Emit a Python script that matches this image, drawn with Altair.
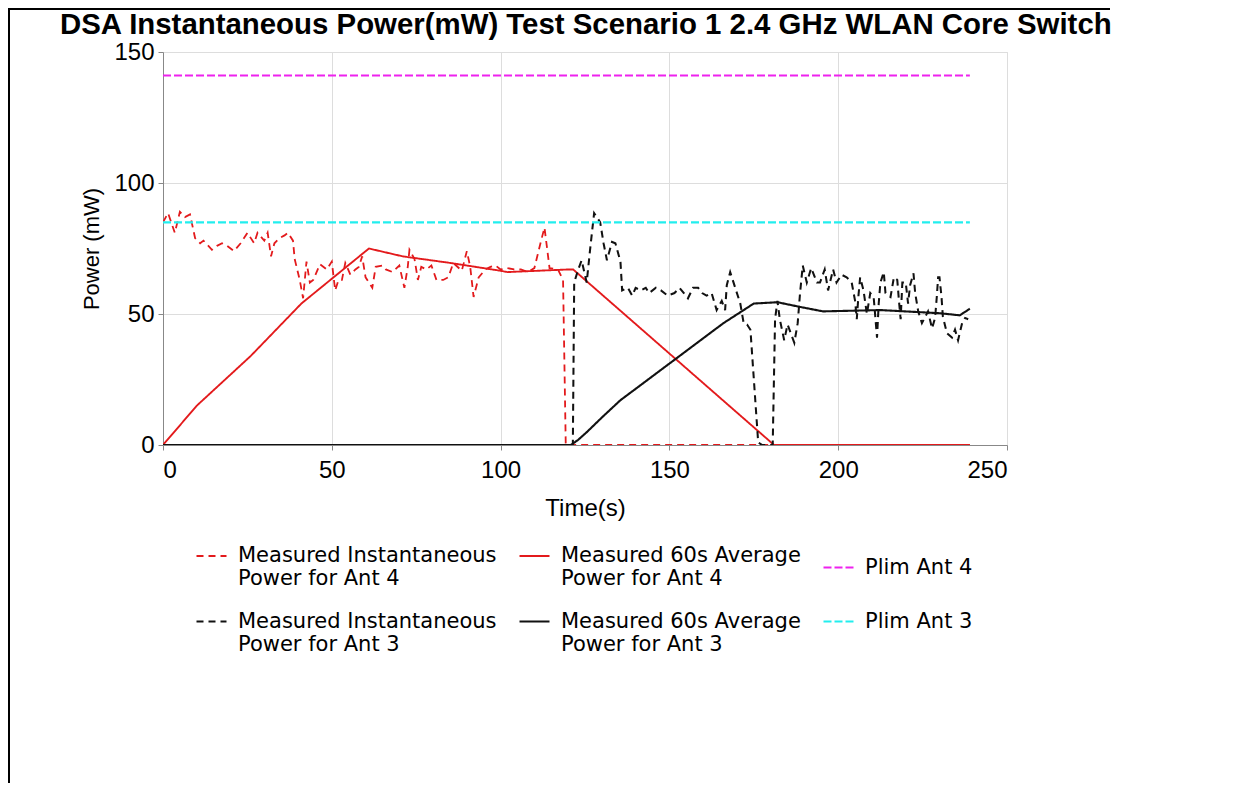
import altair as alt
import pandas as pd

# ---------------- data ----------------
title_text = "DSA Instantaneous Power(mW) Test Scenario 1 2.4 GHz WLAN Core Switch"
x_ticks = [0, 50, 100, 150, 200, 250]
y_ticks = [0, 50, 100, 150]

names = [
    "Measured Instantaneous|Power for Ant 4",
    "Measured 60s Average|Power for Ant 4",
    "Plim Ant 4",
    "Measured Instantaneous|Power for Ant 3",
    "Measured 60s Average|Power for Ant 3",
    "Plim Ant 3",
]
colors = ["#e31a1c", "#e31a1c", "#ee22ee", "#111111", "#111111", "#22eeee"]
dashes = [[7, 5], [1, 0], [8, 3], [7, 5], [1, 0], [8, 3]]
widths = [1.8, 2.2, 3.0, 1.8, 2.2, 3.0]

# Instantaneous power, antenna 4
t_inst4 = [0, 1.5, 3.5, 5, 6.5, 8, 9.5, 11, 12, 14.5, 16, 17.5, 19, 21, 23, 25, 27, 28,
           30, 31, 32, 33, 34.5, 36, 37, 38.5, 39, 40.5, 41.5, 42.5, 43.5, 44.5, 46.5,
           48.5, 50, 51, 52, 53, 54, 55.5, 57, 58, 59, 60, 62, 63, 65, 66, 68, 70, 71.5,
           72.5, 73, 74.5, 75.5, 76.5, 78, 79.5, 81, 83, 84.5, 86, 88.5, 90, 91, 92, 93.5,
           95.5, 97, 98.5, 100, 102, 104, 106, 108, 110, 112, 113, 114.5, 117, 118.5,
           119.3, 120, 239]
p_inst4 = [85, 88.5, 81, 89, 87, 88, 79, 77, 78, 74.5, 76, 77, 76, 74, 77, 81, 77, 81,
           78, 81, 72, 77, 79, 80, 81, 78, 71, 63, 56, 70, 62, 63, 69, 67, 70, 59, 63, 63,
           69.5, 65, 67, 68, 72, 64, 60, 68, 68.5, 67, 66, 68.5, 60, 68, 74.5, 71, 63, 68,
           67, 68.5, 63, 63, 64, 69.5, 66.5, 74, 68, 56.5, 64, 67, 68, 68.5, 67, 67.5, 67,
           67, 66, 67.5, 78, 83, 67.5, 67, 63, 0, 0, 0]

# 60 s average, antenna 4
t_avg4 = [0, 10, 26, 41, 61, 71, 85, 100, 102, 120, 121.5, 181, 239]
p_avg4 = [0, 15, 34, 54, 75, 72, 69.5, 66.5, 66, 67, 67, 0, 0]

# Instantaneous power, antenna 3
t_inst3 = [0, 121.4, 121.8, 123, 124, 125.5, 126.5, 127.7, 129.5, 130.5, 131.5, 133, 134,
           135.5, 136, 137.7, 139, 140, 141.5, 143, 144, 146, 147.5, 149.5, 151.5, 153,
           155.5, 157, 158.5, 159.7, 161, 162.5, 164, 165.5, 166.5, 167, 168, 169.5, 171,
           172, 173, 174, 176.3, 177.5, 180.6, 181.3, 182, 182.7, 184, 185, 187, 188,
           188.7, 189.5, 190.7, 192, 193.7, 194.6, 196, 197, 198.5, 199.5, 201, 202.5,
           204, 205, 205.5, 206, 206.5, 207.5, 208.5, 209.5, 210.5, 211.5, 212, 212.5,
           213.5, 214, 215.5, 216.5, 217.5, 218, 218.5, 219, 220, 220.7, 221.3, 222.3,
           222.8, 223.7, 224.8, 226.6, 227.8, 228.7, 229.2, 229.6, 230, 230.6, 231,
           232.2, 233.7, 234.6, 235.5, 236.7, 237.6, 238.5]
p_inst3 = [0, 0, 62, 67, 70.5, 62, 74.5, 88.5, 85, 77, 70.5, 77.5, 77, 70, 59, 60, 57, 60,
           59, 60, 58, 60, 59, 57, 58, 60, 56, 60, 60, 58, 57, 58, 51.5, 55, 51.5, 61, 66,
           60, 54, 46.5, 46, 44, 1, 0, 0, 48, 55, 48, 40, 46, 39, 46.5, 58, 68.5, 62,
           67.5, 62, 62, 67, 59, 67, 62, 65, 64, 62, 55, 48, 57, 64, 59, 50, 58, 56.5, 41,
           54, 62, 66, 58, 56.5, 64, 63, 55, 48, 62, 62, 54, 61, 65.5, 58, 51, 46.5, 51,
           44.5, 48.5, 56.5, 64, 64, 56.5, 49, 42.7, 41, 44, 40, 46.5, 48.5, 48]

# 60 s average, antenna 3
t_avg3 = [0, 120.8, 123, 125.6, 130, 135.4, 152, 166, 175, 178, 182, 188.7, 195.5, 212.5,
          230, 236, 239]
p_avg3 = [0, 0, 2, 5, 10.5, 17, 33, 46.5, 54, 54.2, 54.5, 52.7, 51, 51.5, 50.3, 49.5, 52]

# Power limits
t_plim = [0, 239]
p_plim4 = [141, 141]
p_plim3 = [85, 85]

# ---------------- build the table ----------------
rows = []


def add(name, ts, ps):
    for i, (a, b) in enumerate(zip(ts, ps)):
        rows.append({"series": name, "t": a, "p": b, "i": i})


add(names[0], t_inst4, p_inst4)
add(names[1], t_avg4, p_avg4)
add(names[3], t_inst3, p_inst3)
add(names[4], t_avg3, p_avg3)
add(names[2], t_plim, p_plim4)
add(names[5], t_plim, p_plim3)
df = pd.DataFrame(rows)

FONT = "DejaVu Sans"
TITLE_FONT = "Liberation Sans"

legend = alt.Legend(
    title=None,
    orient="none",
    legendX=32,
    legendY=488,
    columns=3,
    direction="horizontal",
    symbolType="stroke",
    symbolSize=900,
    symbolStrokeWidth=2,
    labelFont=FONT,
    labelFontSize=21,
    labelColor="#000000",
    labelLimit=400,
    labelOffset=10,
    labelExpr="split(datum.label, '|')",
    columnPadding=18,
    rowPadding=16,
    padding=0,
)

lines = alt.Chart(df).mark_line(clip=True).encode(
    x=alt.X("t:Q", scale=alt.Scale(domain=[0, 250], nice=False),
            axis=alt.Axis(values=x_ticks, title="Time(s)", labelFontSize=24,
                          titleFontSize=24, titleFontWeight="normal",
                          labelPadding=8, titlePadding=14)),
    y=alt.Y("p:Q", scale=alt.Scale(domain=[0, 150], nice=False),
            axis=alt.Axis(values=y_ticks, title="Power (mW)", labelFontSize=24,
                          titleFontSize=22, titleFontWeight="normal",
                          labelPadding=4, titlePadding=10)),
    color=alt.Color("series:N", scale=alt.Scale(domain=names, range=colors), legend=legend),
    strokeDash=alt.StrokeDash("series:N", scale=alt.Scale(domain=names, range=dashes),
                              legend=legend),
    strokeWidth=alt.StrokeWidth("series:N", scale=alt.Scale(domain=names, range=widths),
                                legend=None),
    order=alt.Order("i:Q"),
)

deco = pd.DataFrame({"k": [0]})
border_left = alt.Chart(deco).mark_rule(color="black", strokeWidth=2).encode(
    x=alt.value(-154), y=alt.value(-44), y2=alt.value(731))
border_top = alt.Chart(deco).mark_rule(color="black", strokeWidth=2).encode(
    x=alt.value(-155), x2=alt.value(947), y=alt.value(-43))
title_mark = alt.Chart(deco).mark_text(
    text=title_text, font=TITLE_FONT, fontSize=29.4, fontWeight="bold",
    align="left", baseline="alphabetic", color="#000000",
).encode(x=alt.value(-103), y=alt.value(-18))

chart = alt.layer(lines, border_left, border_top, title_mark).properties(
    width=844,
    height=393,
    padding={"left": 155, "top": 44, "right": 239, "bottom": 338},
    autosize=alt.AutoSizeParams(type="none"),
).configure_view(
    stroke="#b3b3b3", strokeWidth=1
).configure_axis(
    labelFont=FONT, titleFont=FONT, labelColor="#262626", titleColor="#262626",
    domainColor="#b3b3b3", gridColor="#e6e6e6", ticks=False, titleFontWeight="normal"
).configure(background="white")

chart.save("out.html", embed_options={"renderer": "svg", "actions": False})
